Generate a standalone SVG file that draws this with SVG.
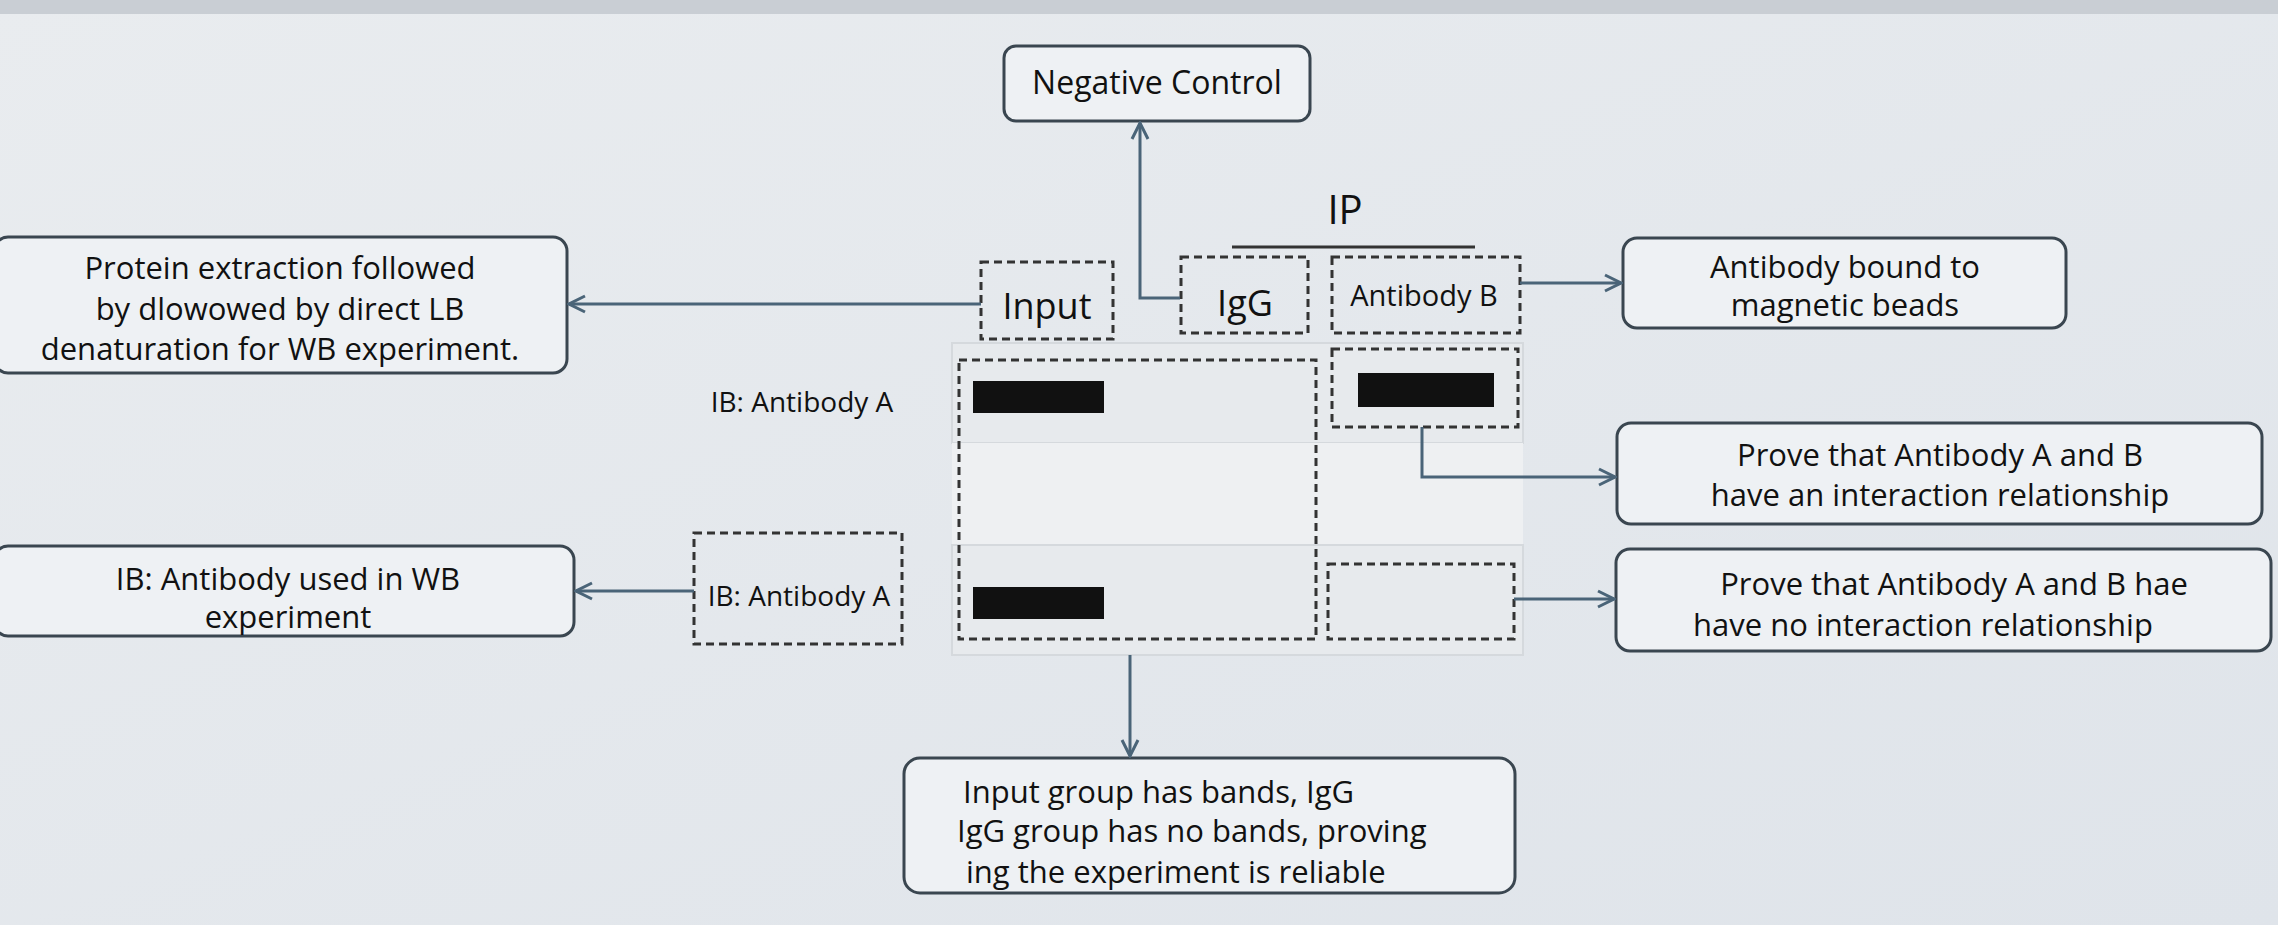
<svg xmlns="http://www.w3.org/2000/svg" width="2278" height="925" viewBox="0 0 2278 925">
<defs>
<linearGradient id="bg" x1="0" y1="0" x2="1" y2="1"><stop offset="0" stop-color="#e9ecef"/><stop offset="1" stop-color="#dfe4ea"/></linearGradient>
<marker id="ah" viewBox="0 0 20 20" refX="18" refY="10" markerWidth="20" markerHeight="20" markerUnits="userSpaceOnUse" orient="auto"><path d="M2,2 L18,10 L2,18" fill="none" stroke="#4a6478" stroke-width="3"/></marker>
</defs>
<style>
.box{fill:#eef1f4;stroke:#3a4650;stroke-width:3}
.dash{fill:none;stroke:#333;stroke-width:3;stroke-dasharray:8 5}
.t{font-family:"Open Sans","Noto Sans",sans-serif;fill:#111;text-anchor:middle}
.c{fill:none;stroke:#4a6478;stroke-width:3;marker-end:url(#ah)}
.band{fill:#111}
.panel{fill:#e7eaed;stroke:#d5d9dd;stroke-width:2}
</style>
<rect width="2278" height="925" fill="url(#bg)"/>
<rect x="0" y="0" width="2278" height="14" fill="#c9ced4"/>
<g id="gel">
<rect class="panel" x="952" y="343" width="571" height="100"/>
<rect x="952" y="443" width="571" height="102" fill="#eef0f2"/>
<rect class="panel" x="952" y="545" width="571" height="110"/>
<rect class="dash" x="959" y="360" width="357" height="279"/>
<rect class="dash" x="1332" y="349" width="186" height="78"/>
<rect class="dash" x="1328" y="564" width="186" height="75"/>
<rect class="band" x="973" y="381" width="131" height="32"/>
<rect class="band" x="1358" y="373" width="136" height="34"/>
<rect class="band" x="973" y="587" width="131" height="32"/>
</g>
<g id="ip-label">
<text class="t" x="1345" y="224" font-size="40">IP</text>
<line x1="1232" y1="247" x2="1475" y2="247" stroke="#333" stroke-width="3"/>
</g>
<g id="input"><rect class="dash" x="981" y="262" width="132" height="77"/><text class="t" x="1047" y="319" font-size="36">Input</text></g>
<g id="igg"><rect class="dash" x="1181" y="257" width="127" height="76"/><text class="t" x="1245" y="316" font-size="36">IgG</text></g>
<g id="antibody-b"><rect class="dash" x="1332" y="257" width="188" height="76"/><text class="t" x="1424" y="306" font-size="29">Antibody B</text></g>
<g id="ib-a-top"><text class="t" x="802" y="412" font-size="28">IB: Antibody A</text></g>
<g id="ib-a"><rect class="dash" x="694" y="533" width="208" height="111"/><text class="t" x="799" y="606" font-size="28">IB: Antibody A</text></g>
<g id="negative-control"><rect class="box" x="1004" y="46" width="306" height="75" rx="12"/><text class="t" x="1157" y="94" font-size="32">Negative Control</text></g>
<g id="protein"><rect class="box" x="-6" y="237" width="573" height="136" rx="14"/>
<text class="t" font-size="31"><tspan x="280" y="279">Protein extraction followed</tspan><tspan x="280" y="320">by dlowowed by direct LB</tspan><tspan x="280" y="360">denaturation for WB experiment.</tspan></text></g>
<g id="ib-used"><rect class="box" x="-6" y="546" width="580" height="90" rx="14"/>
<text class="t" font-size="31"><tspan x="288" y="590">IB: Antibody used in WB</tspan><tspan x="288" y="628">experiment</tspan></text></g>
<g id="beads"><rect class="box" x="1623" y="238" width="443" height="90" rx="14"/>
<text class="t" font-size="31"><tspan x="1845" y="278">Antibody bound to</tspan><tspan x="1845" y="316">magnetic beads</tspan></text></g>
<g id="prove-yes"><rect class="box" x="1617" y="423" width="645" height="101" rx="14"/>
<text class="t" font-size="31"><tspan x="1940" y="466">Prove that Antibody A and B</tspan><tspan x="1940" y="506">have an interaction relationship</tspan></text></g>
<g id="prove-no"><rect class="box" x="1616" y="549" width="655" height="102" rx="14"/>
<text class="t" font-size="31"><tspan x="1954" y="595">Prove that Antibody A and B hae</tspan><tspan x="1923" y="636">have no interaction relationship</tspan></text></g>
<g id="reliable"><rect class="box" x="904" y="758" width="611" height="135" rx="16"/>
<text class="t" font-size="31" text-anchor="start" style="text-anchor:start"><tspan x="963" y="803">Input group has bands, IgG</tspan><tspan x="957" y="842">IgG group has no bands, proving</tspan><tspan x="966" y="883">ing the experiment is reliable</tspan></text></g>
<g id="connectors">
<path class="c" d="M1180,298 H1140 V123"/>
<path class="c" d="M981,304 H569"/>
<path class="c" d="M1520,283 H1621"/>
<path class="c" d="M694,591 H576"/>
<path class="c" d="M1422,427 V477 H1615"/>
<path class="c" d="M1514,599 H1614"/>
<path class="c" d="M1130,655 V756"/>
</g>
</svg>
